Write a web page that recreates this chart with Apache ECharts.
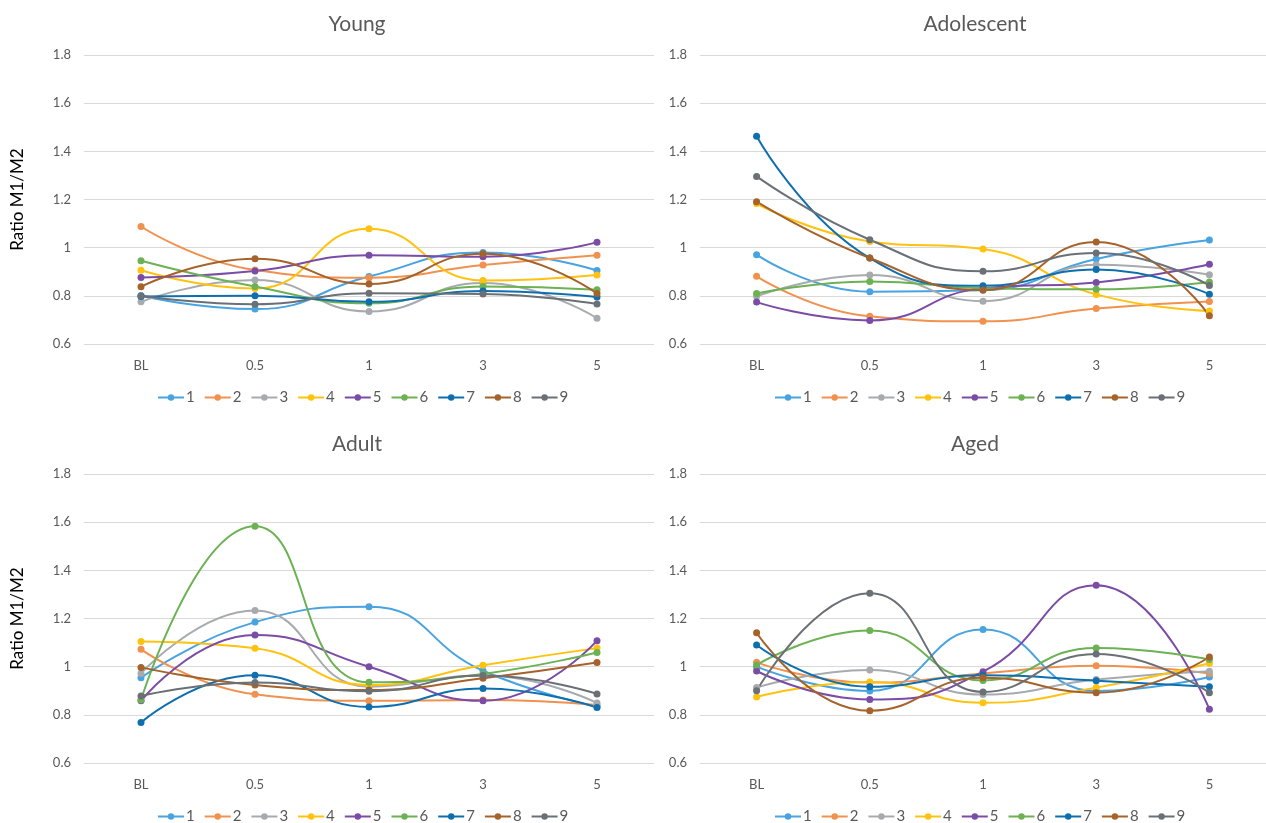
<!DOCTYPE html>
<html>
<head>
<meta charset="utf-8">
<script src="https://cdn.jsdelivr.net/npm/echarts@6/dist/echarts.min.js"></script>
<style>html,body{margin:0;padding:0;background:#fff;}#c{width:1266px;height:823px;}</style>
</head>
<body>
<div id="c"></div>
<script>
const categories = ['BL', '0.5', '1', '3', '5'];
const seriesNames = ['1', '2', '3', '4', '5', '6', '7', '8', '9'];
const yTicks = { min: 0.6, max: 1.8, step: 0.2 };

// rows = series 1..9, columns = BL, 0.5, 1, 3, 5
const young = [
  [0.80, 0.745, 0.88, 0.98, 0.905],
  [1.088, 0.907, 0.875, 0.928, 0.969],
  [0.775, 0.866, 0.735, 0.853, 0.707],
  [0.906, 0.830, 1.079, 0.864, 0.887],
  [0.876, 0.903, 0.969, 0.962, 1.022],
  [0.946, 0.839, 0.769, 0.839, 0.825],
  [0.797, 0.800, 0.775, 0.820, 0.795],
  [0.838, 0.954, 0.849, 0.975, 0.810],
  [0.800, 0.765, 0.811, 0.808, 0.766]
];
const adolescent = [
  [0.971, 0.817, 0.823, 0.953, 1.032],
  [0.881, 0.715, 0.694, 0.747, 0.776],
  [0.798, 0.886, 0.778, 0.929, 0.888],
  [1.183, 1.026, 0.994, 0.806, 0.737],
  [0.774, 0.698, 0.832, 0.855, 0.931],
  [0.810, 0.860, 0.832, 0.827, 0.857],
  [1.463, 0.957, 0.842, 0.909, 0.807],
  [1.191, 0.957, 0.824, 1.024, 0.717],
  [1.296, 1.033, 0.902, 0.978, 0.843]
];
const adult = [
  [0.954, 1.185, 1.249, 0.983, 0.834],
  [1.072, 0.885, 0.858, 0.862, 0.841],
  [0.972, 1.233, 0.917, 0.963, 0.849],
  [1.105, 1.076, 0.924, 1.006, 1.077],
  [0.858, 1.131, 1.000, 0.858, 1.108],
  [0.862, 1.583, 0.935, 0.970, 1.059],
  [0.768, 0.964, 0.833, 0.909, 0.830],
  [0.997, 0.924, 0.903, 0.952, 1.017],
  [0.878, 0.934, 0.898, 0.963, 0.887]
];
const aged = [
  [1.000, 0.899, 1.154, 0.899, 0.957],
  [1.018, 0.934, 0.972, 1.004, 0.972],
  [0.913, 0.986, 0.884, 0.947, 0.981],
  [0.874, 0.936, 0.850, 0.913, 1.014],
  [0.982, 0.864, 0.979, 1.338, 0.823],
  [1.007, 1.150, 0.943, 1.078, 1.030],
  [1.090, 0.917, 0.964, 0.942, 0.917],
  [1.141, 0.817, 0.954, 0.892, 1.040],
  [0.900, 1.305, 0.895, 1.053, 0.892]
];

const colors = ['#48A3E0', '#F0914F', '#A7AAAE', '#FFC20E', '#7B4CA6', '#6CB153', '#0F6FAE', '#A5622A', '#6A7076'];
const panels = [
  { title: 'Young', data: young, left: 84, top: 55, width: 570, titleX: 352, titleY: 9, legendX: 152, legendY: 385, yName: true },
  { title: 'Adolescent', data: adolescent, left: 700, top: 55, width: 572, titleX: 970, titleY: 9, legendX: 769, legendY: 385, yName: false },
  { title: 'Adult', data: adult, left: 84, top: 474, width: 570, titleX: 352, titleY: 429, legendX: 152, legendY: 804, yName: true },
  { title: 'Aged', data: aged, left: 700, top: 474, width: 572, titleX: 970, titleY: 429, legendX: 769, legendY: 804, yName: false }
];

const font = 'Lato, "Open Sans", sans-serif';
const option = {
  animation: false,
  color: colors,
  title: [], grid: [], xAxis: [], yAxis: [], legend: [], series: []
};
panels.forEach((p, i) => {
  option.title.push({
    text: p.title, left: p.titleX, top: p.titleY, textAlign: 'center',
    textStyle: { fontFamily: font, fontSize: 21, fontWeight: 'normal', color: '#595959' }
  });
  option.grid.push({ left: p.left, top: p.top, width: p.width, height: 289 });
  option.xAxis.push({
    type: 'category', gridIndex: i, data: categories, boundaryGap: true,
    axisLine: { show: false }, axisTick: { show: false },
    axisLabel: { fontFamily: font, fontSize: 13, color: '#595959', margin: 15 }
  });
  option.yAxis.push({
    type: 'value', gridIndex: i, min: yTicks.min, max: yTicks.max, interval: yTicks.step,
    name: p.yName ? 'Ratio M1/M2' : '', nameLocation: 'middle', nameGap: 58,
    nameTextStyle: { fontFamily: font, fontSize: 17, color: '#000' },
    axisLine: { show: false }, axisTick: { show: false },
    axisLabel: { fontFamily: font, fontSize: 13, color: '#595959', margin: 13,
      formatter: v => String(Math.round(v * 10) / 10) },
    splitLine: { lineStyle: { color: '#D9D9D9', width: 1 } }
  });
  option.legend.push({
    data: seriesNames, left: p.legendX, top: p.legendY, itemWidth: 26, itemHeight: 8, itemGap: 9,
    textStyle: { fontFamily: font, fontSize: 15, color: '#595959', padding: [0, 0, 0, -3] },
    selectedMode: false
  });
  p.data.forEach((row, k) => {
    option.series.push({
      name: seriesNames[k], type: 'line', xAxisIndex: i, yAxisIndex: i,
      data: row, smooth: 0.5, symbol: 'circle', symbolSize: 7,
      lineStyle: { width: 2, color: colors[k] }, itemStyle: { color: colors[k] }
    });
  });
});

const chart = echarts.init(document.getElementById('c'), null, { renderer: 'canvas' });
chart.setOption(option);
</script>
</body>
</html>
